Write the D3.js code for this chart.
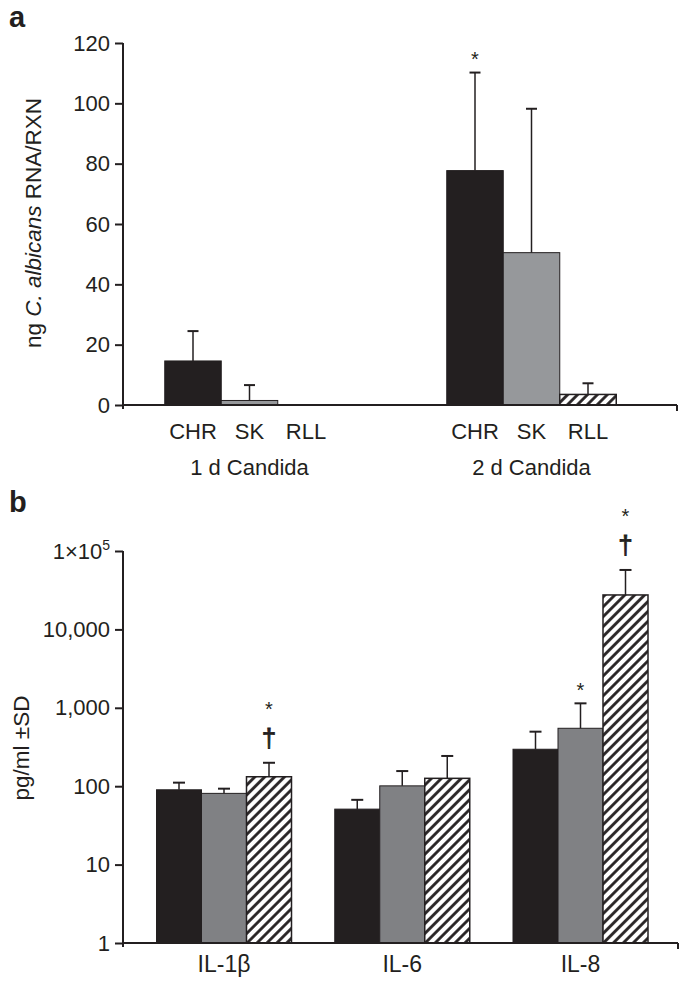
<!DOCTYPE html>
<html><head><meta charset="utf-8">
<script src="https://cdn.jsdelivr.net/npm/d3@7"></script>
<style>
html,body{margin:0;padding:0;background:#fff;}
svg{display:block;font-family:"Liberation Sans",Arial,Helvetica,sans-serif;}
</style></head>
<body>
<svg id="chart" width="685" height="981"></svg>
<script>
// ---------- Panel a data ----------
const groupsA = ["1 d Candida", "2 d Candida"];
const seriesA = ["CHR", "SK", "RLL"];
const meanA = {
  "1 d Candida": [14.6, 1.5, 0],
  "2 d Candida": [77.7, 50.5, 3.5]
};
const errA = {
  "1 d Candida": [24.5, 6.6, null],
  "2 d Candida": [110.2, 98.2, 7.2]
};
const ticksA = [0, 20, 40, 60, 80, 100, 120];
const annotA = [{group: "2 d Candida", series: "CHR", marks: ["*"]}];

// ---------- Panel b data ----------
const groupsB = ["IL-1β", "IL-6", "IL-8"];
const seriesB = ["CHR", "SK", "RLL"];
const meanB = {
  "IL-1β": [90, 81, 132],
  "IL-6": [51, 101, 126],
  "IL-8": [296, 548, 27500]
};
const errB = {
  "IL-1β": [111, 93, 199],
  "IL-6": [67, 156, 243],
  "IL-8": [496, 1140, 57300]
};
const ticksB = [1, 10, 100, 1000, 10000, 100000];
const tickLabelsB = ["1", "10", "100", "1,000", "10,000", "1×10|5"];
const annotB = [
  {group: "IL-1β", series: "RLL", marks: ["†", "*"]},
  {group: "IL-8", series: "SK", marks: ["*"]},
  {group: "IL-8", series: "RLL", marks: ["†", "*"]}
];

const INK = "#231f20";
const svg = d3.select("#chart");

// hatch pattern
const defs = svg.append("defs");
defs.append("pattern")
  .attr("id", "hatch").attr("patternUnits", "userSpaceOnUse")
  .attr("width", 7).attr("height", 7)
  .attr("patternTransform", "rotate(45)")
  .call(p => {
    p.append("rect").attr("width", 7).attr("height", 7).attr("fill", "#fff");
    p.append("line").attr("x1", 1.5).attr("y1", -1).attr("x2", 1.5).attr("y2", 8)
      .attr("stroke", INK).attr("stroke-width", 2.8);
  });

function drawPanel(opt) {
  const g = svg.append("g");
  const y = opt.y;
  const x0 = d3.scalePoint().domain(opt.groups).range(opt.groupRange);
  const x1 = d3.scaleBand().domain(opt.series).range([-opt.bw * 1.5, opt.bw * 1.5]).padding(0);

  // y axis
  const yAxis = d3.axisLeft(y).tickValues(opt.ticks).tickSize(8).tickPadding(5)
    .tickFormat((d, i) => opt.tickLabels[i]);
  const ya = g.append("g").attr("transform", `translate(${opt.axisX},0)`).call(yAxis);
  ya.select(".domain").remove();
  ya.selectAll(".tick line").attr("stroke", INK).attr("stroke-width", 2);
  ya.selectAll(".tick text").attr("fill", INK).attr("font-size", 22)
    .attr("font-family", "Liberation Sans, Arial, sans-serif")
    .each(function(d, i) {
      const t = d3.select(this);
      const lab = opt.tickLabels[i];
      if (lab.includes("|")) {
        const [base, sup] = lab.split("|");
        t.text(null);
        t.append("tspan").text(base);
        t.append("tspan").text(sup).attr("font-size", 14).attr("dy", -9);
      }
    });
  const [yb, yt] = y.range();
  g.append("line").attr("x1", opt.axisX).attr("x2", opt.axisX)
    .attr("y1", yt).attr("y2", yb + 4).attr("stroke", INK).attr("stroke-width", 2);

  // bars
  opt.groups.forEach(gr => {
    opt.series.forEach((s, i) => {
      const v = opt.mean[gr][i];
      const bx = x0(gr) + x1(s);
      const yTop = y(v);
      if (v > opt.minVal) {
        g.append("rect")
          .attr("x", bx).attr("y", yTop)
          .attr("width", x1.bandwidth()).attr("height", yb - yTop)
          .attr("fill", opt.fills[i])
          .attr("stroke", INK).attr("stroke-width", i === 2 ? 1.5 : 1);
      }
      const e = opt.err[gr][i];
      if (e != null) {
        const cx = bx + x1.bandwidth() / 2;
        g.append("line").attr("x1", cx).attr("x2", cx).attr("y1", yTop).attr("y2", y(e))
          .attr("stroke", INK).attr("stroke-width", 1.5);
        g.append("line").attr("x1", cx - opt.cap / 2).attr("x2", cx + opt.cap / 2)
          .attr("y1", y(e)).attr("y2", y(e)).attr("stroke", INK).attr("stroke-width", 2);
      }
    });
  });

  // x axis
  g.append("line").attr("x1", opt.axisX).attr("x2", opt.axisEnd)
    .attr("y1", yb).attr("y2", yb).attr("stroke", INK).attr("stroke-width", 2);
  g.append("line").attr("x1", opt.axisEnd).attr("x2", opt.axisEnd)
    .attr("y1", yb).attr("y2", yb + 6).attr("stroke", INK).attr("stroke-width", 2);

  // annotations
  opt.annot.forEach(a => {
    const i = opt.series.indexOf(a.series);
    const cx = x0(a.group) + x1(a.series) + x1.bandwidth() / 2;
    const eTop = y(opt.err[a.group][i]);
    a.marks.forEach((m, k) => {
      let cy;
      if (a.marks.length === 1) cy = eTop - 18;
      else cy = k === 0 ? eTop - 24 : eTop - 58;
      if (m === "*") {
        g.append("text").attr("x", cx).attr("y", cy + 11.5).attr("text-anchor", "middle")
          .attr("font-size", 20).attr("fill", INK).text(m);
      } else {
        g.append("text").attr("x", cx).attr("y", cy + 8).attr("text-anchor", "middle")
          .attr("font-size", 26).attr("fill", INK)
          .attr("stroke", INK).attr("stroke-width", 0.8).text(m);
      }
    });
  });
  return {g, x0, x1};
}

// ---------- Panel a ----------
const yA = d3.scaleLinear().domain([0, 120]).range([405, 43]);
const pa = drawPanel({
  y: yA, groups: groupsA, series: seriesA, mean: meanA, err: errA,
  ticks: ticksA, tickLabels: ticksA.map(String),
  groupRange: [249.5, 531.5], bw: 56.5, axisX: 123, axisEnd: 677, cap: 11,
  fills: [INK, "#96989b", "url(#hatch)"], annot: annotA, minVal: 0
});
groupsA.forEach(gr => {
  seriesA.forEach(s => {
    pa.g.append("text").attr("x", pa.x0(gr) + pa.x1(s) + pa.x1.bandwidth() / 2)
      .attr("y", 439).attr("text-anchor", "middle").attr("font-size", 22)
      .attr("fill", INK).text(s);
  });
  pa.g.append("text").attr("x", pa.x0(gr)).attr("y", 475).attr("text-anchor", "middle")
    .attr("font-size", 22).attr("fill", INK).text(gr);
});
const la = svg.append("text").attr("transform", "translate(41,223) rotate(-90)")
  .attr("text-anchor", "middle").attr("font-size", 22.5).attr("fill", INK);
la.append("tspan").text("ng ");
la.append("tspan").attr("font-style", "italic").text("C. albicans");
la.append("tspan").text(" RNA/RXN");
svg.append("text").attr("x", 9).attr("y", 27).attr("font-size", 29).attr("font-weight", "bold")
  .attr("fill", INK).text("a");

// ---------- Panel b ----------
const yB = d3.scaleLog().domain([1, 100000]).range([943, 551]);
const pb = drawPanel({
  y: yB, groups: groupsB, series: seriesB, mean: meanB, err: errB,
  ticks: ticksB, tickLabels: tickLabelsB,
  groupRange: [224, 580.5], bw: 45, axisX: 123, axisEnd: 678, cap: 12,
  fills: [INK, "#808184", "url(#hatch)"], annot: annotB, minVal: 1
});
groupsB.forEach(gr => {
  pb.g.append("text").attr("x", pb.x0(gr)).attr("y", 972).attr("text-anchor", "middle")
    .attr("font-size", 23).attr("fill", INK).text(gr);
});
svg.append("text").attr("transform", "translate(29,748) rotate(-90)")
  .attr("text-anchor", "middle").attr("font-size", 22.5).attr("fill", INK).text("pg/ml ±SD");
svg.append("text").attr("x", 9).attr("y", 512).attr("font-size", 29).attr("font-weight", "bold")
  .attr("fill", INK).text("b");
</script>
</body></html>
